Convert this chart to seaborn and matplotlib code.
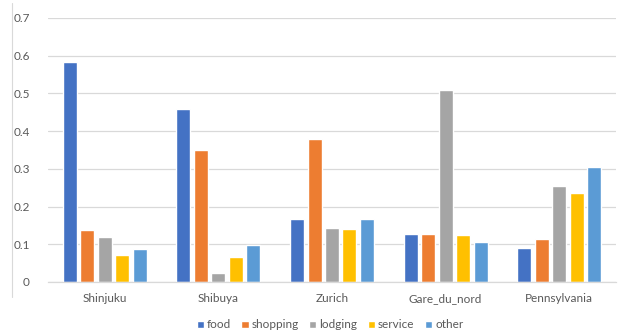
import matplotlib
matplotlib.use("Agg")
import matplotlib.pyplot as plt
import seaborn as sns
import pandas as pd
from matplotlib.lines import Line2D

stations = ["Shinjuku", "Shibuya", "Zurich", "Gare_du_nord", "Pennsylvania"]
categories = ["food", "shopping", "lodging", "service", "other"]
food = [0.584, 0.458, 0.167, 0.128, 0.089]
shopping = [0.138, 0.349, 0.378, 0.128, 0.115]
lodging = [0.118, 0.024, 0.144, 0.509, 0.255]
service = [0.072, 0.066, 0.141, 0.125, 0.236]
other = [0.087, 0.099, 0.167, 0.105, 0.304]
yticks = [0, 0.1, 0.2, 0.3, 0.4, 0.5, 0.6, 0.7]
ytick_labels = ["0", "0.1", "0.2", "0.3", "0.4", "0.5", "0.6", "0.7"]

colors = ["#4472C4", "#ED7D31", "#A5A5A5", "#FFC000", "#5B9BD5"]

series = {"food": food, "shopping": shopping, "lodging": lodging,
          "service": service, "other": other}
rows = []
for cat in categories:
    for st, v in zip(stations, series[cat]):
        rows.append({"station": st, "category": cat, "value": v})
df = pd.DataFrame(rows)

sns.set_theme(style="white")
plt.rcParams["font.family"] = ["Lato", "DejaVu Sans"]

fig = plt.figure(figsize=(6.18, 3.35), dpi=100)
ax = fig.add_axes([48 / 618, 53 / 335, 568 / 618, 264 / 335])

sns.barplot(data=df, x="station", y="value", hue="category",
            hue_order=categories, order=stations, palette=colors,
            saturation=1, width=0.77, gap=0.2, ax=ax, legend=True)

ax.set_ylim(0, 0.7)
ax.set_xlim(-0.5, 4.5)
ax.set_yticks(yticks)
ax.set_yticklabels(ytick_labels)
ax.grid(axis="y", color="#D9D9D9", linewidth=0.9)
ax.set_axisbelow(True)
for s in ["top", "right", "left"]:
    ax.spines[s].set_visible(False)
ax.spines["bottom"].set_color("#D9D9D9")
ax.spines["bottom"].set_linewidth(0.9)
ax.tick_params(axis="both", length=0, labelsize=8.5, labelcolor="#595959")
ax.tick_params(axis="y", pad=13)
ax.tick_params(axis="x", pad=8)
ax.set_xlabel("")
ax.set_ylabel("")

handles, labels = ax.get_legend_handles_labels()
ax.legend_.remove()
fig.legend(handles, labels, loc="center", bbox_to_anchor=(330 / 618, 10 / 335),
           ncol=5, frameon=False, fontsize=8.5, handlelength=0.6,
           handleheight=0.6, handletextpad=0.25, columnspacing=0.9,
           labelcolor="#595959")

fig.add_artist(Line2D([12 / 618, 12 / 618], [38 / 335, 332 / 335],
                      transform=fig.transFigure, color="#D9D9D9", linewidth=0.8))

fig.savefig("out.png", dpi=100)
